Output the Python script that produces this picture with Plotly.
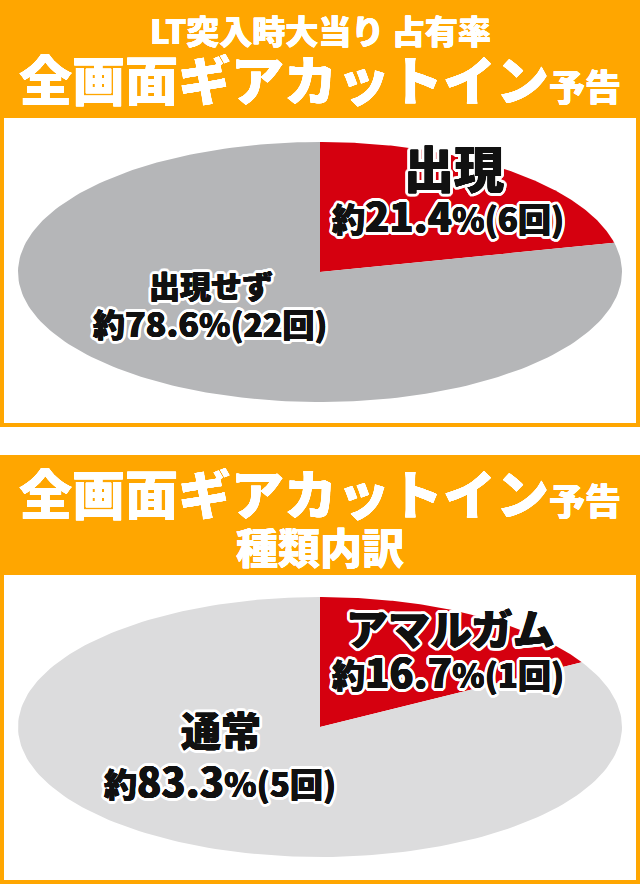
import numpy as np
import plotly.graph_objects as go

W, H = 640, 884
ORANGE, RED = "#ffa600", "#d5000f"
GRAY_TOP, GRAY_BOT = "#b5b6b8", "#dcdcdd"
FONT = "Noto Sans CJK JP"
K = "#111111"

# data
top_labels = ["出現", "出現せず"]
top_pct = [21.4, 78.6]
top_counts = [6, 22]
bot_labels = ["アマルガム", "通常"]
bot_pct = [16.7, 83.3]
bot_counts = [1, 5]


def ring(r, col, n=12):
    return ["%.2fpx %.2fpx 0 %s" % (r * np.cos(a), r * np.sin(a), col)
            for a in np.linspace(0, 2 * np.pi, n, endpoint=False)]


# slightly heavier black glyph + white outline
OUTLINE = ", ".join(ring(0.4, K, 4) + ring(3.2, "#fff", 16))
HEAVY_WHITE = ", ".join(ring(0.3, "#fff", 4))


def px(x):
    return x / W


def py(y):
    return 1 - y / H


def wedges(pct):
    # slices clockwise from 12 o'clock, unit circle stretched into an ellipse by the axes
    out, start = [], 0.0
    for p in pct:
        a = np.linspace(start, start + p / 100 * 2 * np.pi, 200)
        out.append((np.r_[0, np.sin(a), 0], np.r_[0, np.cos(a), 0]))
        start += p / 100 * 2 * np.pi
    return out


def label(n, pct, big, small):
    return ("約<span style='font-size:%dpx'>%s</span>%%<span style='font-size:%dpx'>(%d回)</span>"
            % (big, pct, small, n))


fig = go.Figure()
for (xs, ys), col in zip(wedges(top_pct), [RED, GRAY_TOP]):
    fig.add_trace(go.Scatter(x=xs, y=ys, fill="toself", fillcolor=col, mode="lines",
                             line=dict(width=0, color=col), hoverinfo="skip", showlegend=False))
for (xs, ys), col in zip(wedges(bot_pct), [RED, GRAY_BOT]):
    fig.add_trace(go.Scatter(x=xs, y=ys, fill="toself", fillcolor=col, mode="lines",
                             line=dict(width=0, color=col), hoverinfo="skip", showlegend=False,
                             xaxis="x2", yaxis="y2"))

ax = dict(range=[-1, 1], visible=False, fixedrange=True)
fig.update_layout(
    width=W, height=H, margin=dict(l=0, r=0, t=0, b=0),
    paper_bgcolor="white", plot_bgcolor="rgba(0,0,0,0)",
    xaxis=dict(ax, domain=[px(18), px(622)]), yaxis=dict(ax, domain=[py(402), py(142)]),
    xaxis2=dict(ax, domain=[px(18), px(622)], anchor="y2"),
    yaxis2=dict(ax, domain=[py(857), py(597)], anchor="x2"),
)

# panels
for y0, y1, top in [(0, 427, 118), (455, 884, 575)]:
    fig.add_shape(type="rect", xref="paper", yref="paper", x0=0, x1=1, y0=py(y1), y1=py(y0),
                  fillcolor=ORANGE, line=dict(width=0), layer="below")
    fig.add_shape(type="rect", xref="paper", yref="paper", x0=px(4), x1=px(636), y0=py(y1 - 4), y1=py(top),
                  fillcolor="white", line=dict(width=0), layer="below")


def txt(x, y, s, size, color="white", shadow=HEAVY_WHITE):
    f = dict(family=FONT, size=size, color=color, weight=900, shadow=shadow)
    fig.add_annotation(xref="paper", yref="paper", x=px(x), y=py(y), text=s, showarrow=False,
                       xanchor="center", yanchor="middle", font=f)


big_title = "全画面ギアカットイン<span style='font-size:36px'>予告</span>"
txt(320, 30, "LT突入時大当り 占有率", 33)
txt(320, 78, big_title, 53)
txt(320, 492, big_title, 53)
txt(320, 545, "種類内訳", 42)

txt(454, 166, top_labels[0], 50, K, OUTLINE)
txt(448, 215, label(top_counts[0], top_pct[0], 40, 33), 33, K, OUTLINE)
txt(211, 285, top_labels[1], 31, K, OUTLINE)
txt(210, 322, label(top_counts[1], top_pct[1], 34, 32), 32, K, OUTLINE)

txt(450, 626, bot_labels[0], 42, K, OUTLINE)
txt(448, 671, label(bot_counts[0], bot_pct[0], 40, 33), 33, K, OUTLINE)
txt(221, 729, bot_labels[1], 40, K, OUTLINE)
txt(220, 780, label(bot_counts[1], bot_pct[1], 40, 33), 33, K, OUTLINE)

fig.write_html("out.html", config={"displayModeBar": False},
               post_script="document.body.style.margin='0';")
